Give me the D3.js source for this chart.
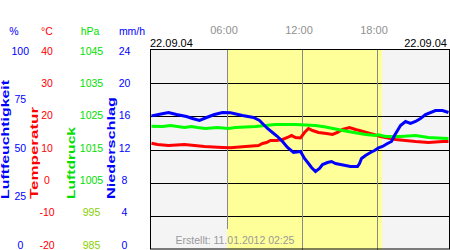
<!DOCTYPE html>
<html>
<head>
<meta charset="utf-8">
<script src="https://cdn.jsdelivr.net/npm/d3@7"></script>
<style>
  html, body { margin: 0; padding: 0; background: #fff; }
  svg { display: block; font-family: "Liberation Sans", Arial, sans-serif; }
</style>
</head>
<body>
<svg id="chart" width="450" height="250"></svg>
<script>
// ---------------- data ----------------
const dateLabel = "22.09.04";
const createdLabel = "Erstellt: 11.01.2012 02:25";
const sunrise = 6.05;   // hours
const sunset = 18.45;   // hours
const timeTicks = [6, 12, 18];

const humidityTicks = [0, 25, 50, 75, 100];
const tempTicks = [-20, -10, 0, 10, 20, 30, 40];
const pressureTicks = [985, 995, 1005, 1015, 1025, 1035, 1045];
const rainTicks = [0, 4, 8, 12, 16, 20, 24];

// humidity (%) : [hour, value]
const humidity = [
  [0, 66.8], [0.56, 67.5], [1.36, 68.5], [2.0, 67.5], [2.8, 66.5], [3.28, 65.5], [3.84, 64.5],
  [4.4, 66], [5.04, 67.5], [5.68, 68.5], [6.32, 68.4], [7.28, 67], [8.16, 66], [8.64, 64.5],
  [8.96, 62.5], [9.28, 60.5], [9.68, 58.5], [10.08, 56.5], [10.48, 54], [10.88, 51], [11.36, 48.5],
  [11.92, 49], [12.24, 45.5], [12.56, 43], [12.8, 41], [13.12, 39], [13.44, 40.5], [13.68, 42.5],
  [14.08, 43.5], [14.4, 44], [14.72, 43], [15.12, 42.5], [15.92, 41.5], [16.48, 41.5], [16.64, 43],
  [16.8, 45.5], [17.12, 47], [17.52, 48.5], [17.84, 49.5], [18.16, 50.8], [18.48, 51.5], [18.88, 53],
  [19.2, 54], [19.44, 57], [19.68, 59.5], [19.92, 62], [20.32, 64], [20.72, 63], [21.12, 64],
  [21.52, 65.5], [21.92, 67.5], [22.72, 69.5], [23.28, 69.5], [23.76, 68.5]
];
// temperature (°C)
const temperature = [
  [0, 11.9], [0.48, 11.5], [1.36, 11.2], [2.64, 11.5], [4.24, 10.9], [5.68, 10.6], [6.32, 10.5],
  [7.52, 10.9], [8.56, 11.2], [8.88, 11.8], [9.2, 12.1], [9.52, 12.7], [10.0, 12.7], [10.48, 13.0],
  [10.88, 13.6], [11.2, 14.2], [11.52, 13.6], [11.92, 13.45], [12.24, 15.1], [12.56, 16.3],
  [12.88, 15.7], [13.36, 15.1], [14.0, 14.8], [14.48, 14.5], [14.88, 15.1], [15.28, 16.0],
  [15.84, 16.6], [16.32, 16.0], [16.64, 15.7], [17.2, 15.1], [17.92, 14.35], [18.32, 13.9],
  [18.72, 13.6], [19.52, 13.0], [20.32, 12.7], [21.12, 12.4], [22.16, 12.1], [23.28, 12.4], [23.76, 12.4]
];
// pressure (hPa)
const pressure = [
  [0, 1022.0], [0.88, 1021.9], [1.52, 1022.2], [2.08, 1021.9], [2.64, 1021.6], [3.2, 1021.9],
  [3.68, 1021.6], [4.32, 1021.3], [5.28, 1021.6], [6.16, 1021.3], [6.72, 1021.6], [8.32, 1021.9],
  [9.92, 1022.5], [11.52, 1022.5], [12.32, 1022.35], [13.12, 1022.2], [13.92, 1021.75],
  [14.72, 1021.15], [15.52, 1020.55], [16.32, 1020.0], [17.12, 1019.5], [17.92, 1019.2],
  [18.16, 1019.4], [18.72, 1018.9], [19.92, 1018.9], [21.12, 1019.2], [22.16, 1018.6],
  [23.28, 1018.4], [23.76, 1018.3]
];

// ---------------- layout ----------------
const svg = d3.select("#chart");
const plot = { left: 150.5, right: 449.5, top: 49.5, bottom: 249.5 };
const BLUE = "#0000ff", RED = "#ff0000", GREEN = "#00e000", GREEN2 = "#88d000";
const FS = "10.5px";

const x = d3.scaleLinear().domain([0, 24]).range([151.5, 451.5]);
const yHum = d3.scaleLinear().domain([0, 100]).range([plot.bottom, plot.top]);
const yTemp = d3.scaleLinear().domain([-20, 40]).range([plot.bottom, plot.top]);
const yPres = d3.scaleLinear().domain([985, 1045]).range([plot.bottom, plot.top]);

// label scales (tick text baselines)
const lHum = d3.scaleLinear().domain([0, 100]).range([248, 54]);
const lTemp = d3.scaleLinear().domain([-20, 40]).range([248, 54]);
const lPres = d3.scaleLinear().domain([985, 1045]).range([248, 54]);
const lRain = d3.scaleLinear().domain([0, 24]).range([248, 54]);

svg.append("defs").append("clipPath").attr("id", "clip")
  .append("rect").attr("x", plot.left).attr("y", plot.top)
  .attr("width", plot.right - plot.left).attr("height", plot.bottom - plot.top);

// backgrounds
svg.append("rect").attr("x", plot.left).attr("y", plot.top)
  .attr("width", plot.right - plot.left).attr("height", plot.bottom - plot.top)
  .attr("fill", "#f4f4f4");
svg.append("rect").attr("x", x(sunrise)).attr("y", plot.top)
  .attr("width", x(sunset) - x(sunrise)).attr("height", plot.bottom - plot.top)
  .attr("fill", "#ffff99");

// horizontal gridlines
svg.append("g").selectAll("line").data(tempTicks.slice(1, -1)).join("line")
  .attr("x1", plot.left).attr("x2", plot.right)
  .attr("y1", d => Math.round(yTemp(d)) + 0.5).attr("y2", d => Math.round(yTemp(d)) + 0.5)
  .attr("stroke", "#000").attr("stroke-width", 1).attr("shape-rendering", "crispEdges");

// created label
const created = svg.append("text").attr("x", 235).attr("y", 244)
  .attr("text-anchor", "middle").attr("font-size", FS).attr("fill", "#999")
  .text(createdLabel);
const cb = created.node().getBBox();

// vertical time lines
svg.append("g").selectAll("line").data(timeTicks).join("line")
  .attr("x1", d => Math.round(x(d)) + 0.5).attr("x2", d => Math.round(x(d)) + 0.5)
  .attr("y1", plot.top)
  .attr("y2", d => (x(d) > cb.x && x(d) < cb.x + cb.width) ? cb.y - 5 : plot.bottom)
  .attr("stroke", "#888").attr("stroke-width", 1).attr("shape-rendering", "crispEdges");

// data lines
const g = svg.append("g").attr("clip-path", "url(#clip)");
const mk = ys => d3.line().x(d => x(d[0])).y(d => ys(d[1]));
g.append("path").datum(temperature).attr("d", mk(yTemp))
  .attr("fill", "none").attr("stroke", RED).attr("stroke-width", 3);
g.append("path").datum(pressure).attr("d", mk(yPres))
  .attr("fill", "none").attr("stroke", "#00ff00").attr("stroke-width", 3);
g.append("path").datum(humidity).attr("d", mk(yHum))
  .attr("fill", "none").attr("stroke", BLUE).attr("stroke-width", 3);

// border
svg.append("rect").attr("x", plot.left).attr("y", plot.top)
  .attr("width", plot.right - plot.left).attr("height", plot.bottom - plot.top - 0.5)
  .attr("fill", "none").attr("stroke", "#000").attr("stroke-width", 1);

// ---------------- axes / labels ----------------
function tickAxis(scale, ticks, xpos, color) {
  const ax = svg.append("g").attr("transform", `translate(${xpos},0)`)
    .call(d3.axisLeft(scale).tickValues(ticks).tickSize(0).tickPadding(0)
      .tickFormat(d => String(d)));
  ax.select(".domain").remove();
  ax.selectAll("text").attr("x", 0).attr("dy", 0).attr("text-anchor", "middle")
    .attr("font-size", FS).attr("font-family", "Liberation Sans, Arial, sans-serif")
    .attr("fill", color);
  return ax;
}
tickAxis(lHum, humidityTicks, 20.3, BLUE);
tickAxis(lTemp, tempTicks, 47, RED);
tickAxis(lPres, pressureTicks, 91.5, d => d < 1000 ? GREEN2 : GREEN);
tickAxis(lRain, rainTicks, 124.5, BLUE);

// unit headers
const units = [["%", 14, BLUE], ["°C", 47, RED], ["hPa", 90, GREEN], ["mm/h", 132, BLUE]];
svg.append("g").selectAll("text").data(units).join("text")
  .attr("x", d => d[1]).attr("y", 34.5).attr("text-anchor", "middle")
  .attr("font-size", FS).attr("fill", d => d[2]).text(d => d[0]);

// time axis on top
const tAx = svg.append("g").attr("transform", "translate(-3,34)")
  .call(d3.axisTop(x).tickValues(timeTicks).tickSize(0).tickPadding(0)
    .tickFormat(d => String(d).padStart(2, "0") + ":00"));
tAx.select(".domain").remove();
tAx.selectAll("text").attr("dy", 0).attr("font-size", "11px")
  .attr("font-family", "Liberation Sans, Arial, sans-serif").attr("fill", "#909090");

// dates
svg.append("text").attr("x", 150).attr("y", 46.5).attr("font-size", "11px")
  .attr("fill", "#000").text(dateLabel);
svg.append("text").attr("x", 447).attr("y", 46.5).attr("font-size", "11px")
  .attr("text-anchor", "end").attr("fill", "#000").text(dateLabel);

// rotated titles
const titles = [["Luftfeuchtigkeit", 8.5, BLUE, 119], ["Temperatur", 37.5, RED, 92],
                ["Luftdruck", 75, GREEN, 72], ["Niederschlag", 115, BLUE, 102]];
svg.append("g").selectAll("text").data(titles).join("text")
  .attr("transform", d => `translate(${d[1]},199) rotate(-90)`)
  .attr("text-anchor", "start").attr("font-size", "10px").attr("font-weight", "bold")
  .attr("fill", d => d[2]).attr("textLength", d => d[3])
  .attr("lengthAdjust", "spacingAndGlyphs").text(d => d[0]);
</script>
</body>
</html>
